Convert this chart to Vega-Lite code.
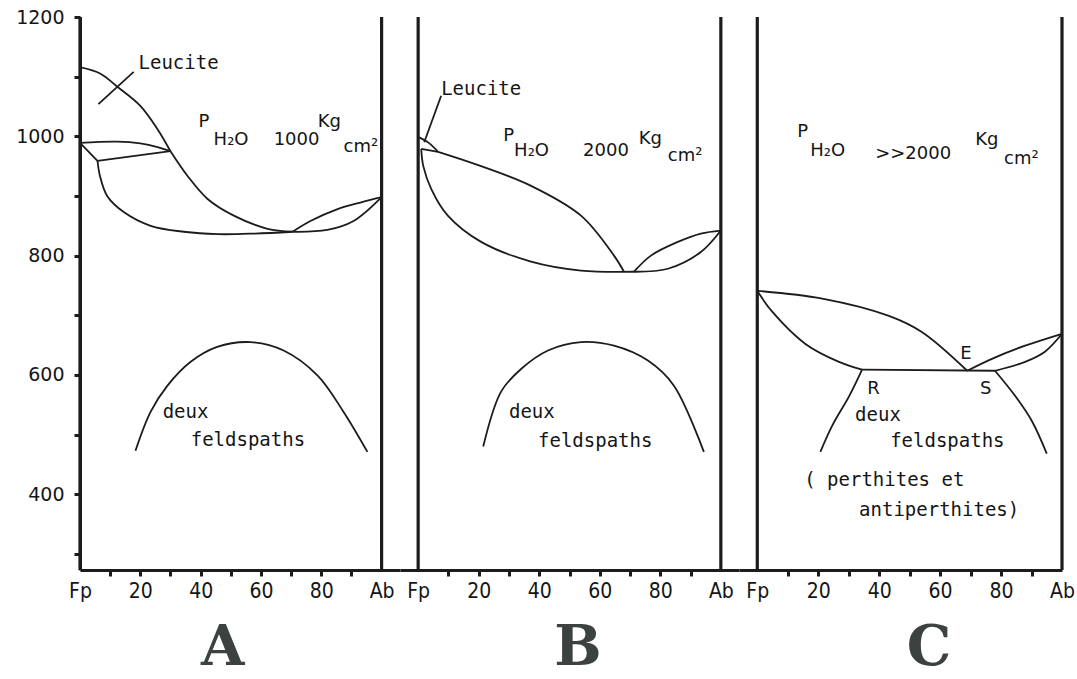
{
  "$schema": "https://vega.github.io/schema/vega-lite/v6.json",
  "background": "white",
  "padding": {"left": 15, "top": 8, "right": 0, "bottom": 0},
  "bounds": "flush",
  "spacing": 0,
  "config": {
    "view": {"stroke": null},
    "axis": {"grid": false, "title": null, "domainColor": "#1c1c1c", "domainWidth": 3, "tickColor": "#1c1c1c", "tickWidth": 3, "tickSize": 6, "labelColor": "#151515"},
    "line": {"color": "#1c1c1c", "strokeWidth": 1.8, "interpolate": "catmull-rom"},
    "rule": {"color": "#1c1c1c", "strokeWidth": 3.2},
    "text": {"color": "#151515"}
  },
  "datasets": {
    "bars": [{"x": 0}, {"x": 100}],
    "curvesA": [
      {"c": "liqL", "i": 0, "x": 0, "t": 1116}, {"c": "liqL", "i": 1, "x": 6.8, "t": 1105}, {"c": "liqL", "i": 2, "x": 12.4, "t": 1083}, {"c": "liqL", "i": 3, "x": 20, "t": 1051}, {"c": "liqL", "i": 4, "x": 25.7, "t": 1012}, {"c": "liqL", "i": 5, "x": 30, "t": 975},
      {"c": "liqF", "i": 0, "x": 30, "t": 975}, {"c": "liqF", "i": 1, "x": 35.6, "t": 934}, {"c": "liqF", "i": 2, "x": 42.3, "t": 895}, {"c": "liqF", "i": 3, "x": 51, "t": 867}, {"c": "liqF", "i": 4, "x": 62.2, "t": 845}, {"c": "liqF", "i": 5, "x": 70.5, "t": 840},
      {"c": "sol", "i": 0, "x": 5.8, "t": 959}, {"c": "sol", "i": 1, "x": 6.6, "t": 934}, {"c": "sol", "i": 2, "x": 9, "t": 900}, {"c": "sol", "i": 3, "x": 14.5, "t": 873}, {"c": "sol", "i": 4, "x": 23.4, "t": 850}, {"c": "sol", "i": 5, "x": 34.4, "t": 840}, {"c": "sol", "i": 6, "x": 45.6, "t": 836}, {"c": "sol", "i": 7, "x": 58, "t": 837}, {"c": "sol", "i": 8, "x": 70.5, "t": 840},
      {"c": "lt", "i": 0, "x": 0, "t": 989}, {"c": "lt", "i": 1, "x": 12.4, "t": 991}, {"c": "lt", "i": 2, "x": 20, "t": 988}, {"c": "lt", "i": 3, "x": 25.7, "t": 982}, {"c": "lt", "i": 4, "x": 30, "t": 975},
      {"c": "lb", "i": 0, "x": 5.8, "t": 959}, {"c": "lb", "i": 1, "x": 30, "t": 975},
      {"c": "ll", "i": 0, "x": 0, "t": 989}, {"c": "ll", "i": 1, "x": 5.8, "t": 959},
      {"c": "lensU", "i": 0, "x": 70.5, "t": 840}, {"c": "lensU", "i": 1, "x": 76.4, "t": 858}, {"c": "lensU", "i": 2, "x": 85.4, "t": 878}, {"c": "lensU", "i": 3, "x": 93, "t": 889}, {"c": "lensU", "i": 4, "x": 100, "t": 898},
      {"c": "lensL", "i": 0, "x": 70.5, "t": 840}, {"c": "lensL", "i": 1, "x": 82, "t": 843}, {"c": "lensL", "i": 2, "x": 90.7, "t": 858}, {"c": "lensL", "i": 3, "x": 100, "t": 898},
      {"c": "lead", "i": 0, "x": 6.1, "t": 1054}, {"c": "lead", "i": 1, "x": 17.8, "t": 1108},
      {"c": "solv", "i": 0, "x": 18.4, "t": 473}, {"c": "solv", "i": 1, "x": 23.4, "t": 538}, {"c": "solv", "i": 2, "x": 29, "t": 582}, {"c": "solv", "i": 3, "x": 36.7, "t": 622}, {"c": "solv", "i": 4, "x": 45.5, "t": 647}, {"c": "solv", "i": 5, "x": 56.5, "t": 655}, {"c": "solv", "i": 6, "x": 67.5, "t": 641}, {"c": "solv", "i": 7, "x": 78.8, "t": 599}, {"c": "solv", "i": 8, "x": 87.4, "t": 538}, {"c": "solv", "i": 9, "x": 95.3, "t": 471}
    ],
    "curvesB": [
      {"c": "lt", "i": 0, "x": 0, "t": 999}, {"c": "lt", "i": 1, "x": 3.5, "t": 989}, {"c": "lt", "i": 2, "x": 6.6, "t": 974},
      {"c": "lb", "i": 0, "x": 1, "t": 979}, {"c": "lb", "i": 1, "x": 6.6, "t": 974},
      {"c": "lead", "i": 0, "x": 2, "t": 990}, {"c": "lead", "i": 1, "x": 7.6, "t": 1068},
      {"c": "sol", "i": 0, "x": 1, "t": 979}, {"c": "sol", "i": 1, "x": 1.7, "t": 950}, {"c": "sol", "i": 2, "x": 4.3, "t": 912}, {"c": "sol", "i": 3, "x": 9.8, "t": 867}, {"c": "sol", "i": 4, "x": 20.8, "t": 823}, {"c": "sol", "i": 5, "x": 37.3, "t": 790}, {"c": "sol", "i": 6, "x": 53.8, "t": 775}, {"c": "sol", "i": 7, "x": 71.3, "t": 773},
      {"c": "liq", "i": 0, "x": 6.6, "t": 974}, {"c": "liq", "i": 1, "x": 20.8, "t": 950}, {"c": "liq", "i": 2, "x": 37.3, "t": 917}, {"c": "liq", "i": 3, "x": 53.8, "t": 867}, {"c": "liq", "i": 4, "x": 64.7, "t": 800}, {"c": "liq", "i": 5, "x": 68, "t": 773},
      {"c": "lensU", "i": 0, "x": 71.3, "t": 773}, {"c": "lensU", "i": 1, "x": 76.9, "t": 800}, {"c": "lensU", "i": 2, "x": 85.8, "t": 823}, {"c": "lensU", "i": 3, "x": 93.4, "t": 837}, {"c": "lensU", "i": 4, "x": 100, "t": 842},
      {"c": "lensL", "i": 0, "x": 71.3, "t": 773}, {"c": "lensL", "i": 1, "x": 82.5, "t": 778}, {"c": "lensL", "i": 2, "x": 93.4, "t": 806}, {"c": "lensL", "i": 3, "x": 100, "t": 842},
      {"c": "solv", "i": 0, "x": 21.5, "t": 480}, {"c": "solv", "i": 1, "x": 27.4, "t": 572}, {"c": "solv", "i": 2, "x": 34, "t": 610}, {"c": "solv", "i": 3, "x": 42.9, "t": 641}, {"c": "solv", "i": 4, "x": 53.8, "t": 655}, {"c": "solv", "i": 5, "x": 64.7, "t": 649}, {"c": "solv", "i": 6, "x": 75.9, "t": 624}, {"c": "solv", "i": 7, "x": 84.5, "t": 582}, {"c": "solv", "i": 8, "x": 94.4, "t": 471}
    ],
    "curvesC": [
      {"c": "liq", "i": 0, "x": 0, "t": 741}, {"c": "liq", "i": 1, "x": 21.3, "t": 728}, {"c": "liq", "i": 2, "x": 43.2, "t": 699}, {"c": "liq", "i": 3, "x": 54, "t": 672}, {"c": "liq", "i": 4, "x": 68.9, "t": 607},
      {"c": "sol", "i": 0, "x": 0, "t": 741}, {"c": "sol", "i": 1, "x": 4.9, "t": 706}, {"c": "sol", "i": 2, "x": 15.8, "t": 652}, {"c": "sol", "i": 3, "x": 26.8, "t": 622}, {"c": "sol", "i": 4, "x": 34.4, "t": 609},
      {"c": "eut", "i": 0, "x": 34.4, "t": 609}, {"c": "eut", "i": 1, "x": 78, "t": 607},
      {"c": "lensU", "i": 0, "x": 68.9, "t": 607}, {"c": "lensU", "i": 1, "x": 77, "t": 627}, {"c": "lensU", "i": 2, "x": 87.9, "t": 649}, {"c": "lensU", "i": 3, "x": 100, "t": 669},
      {"c": "lensL", "i": 0, "x": 78, "t": 607}, {"c": "lensL", "i": 1, "x": 87.9, "t": 622}, {"c": "lensL", "i": 2, "x": 94.4, "t": 639}, {"c": "lensL", "i": 3, "x": 100, "t": 669},
      {"c": "solvL", "i": 0, "x": 20.7, "t": 471}, {"c": "solvL", "i": 1, "x": 24.6, "t": 515}, {"c": "solvL", "i": 2, "x": 30.2, "t": 565}, {"c": "solvL", "i": 3, "x": 34.4, "t": 609},
      {"c": "solvR", "i": 0, "x": 78, "t": 607}, {"c": "solvR", "i": 1, "x": 84.6, "t": 565}, {"c": "solvR", "i": 2, "x": 90.2, "t": 522}, {"c": "solvR", "i": 3, "x": 95, "t": 468}
    ],
    "textA": [
      {"k": "lab", "s": "Leucite", "x": 19.4, "t": 1113},
      {"k": "lab", "s": "deux", "x": 27.4, "t": 527},
      {"k": "lab", "s": "feldspaths", "x": 36.7, "t": 481},
      {"k": "ann", "s": "P", "x": 39.3, "t": 1016},
      {"k": "ann", "s": "H₂O", "x": 44.3, "t": 986},
      {"k": "ann", "s": "1000", "x": 64.2, "t": 986},
      {"k": "ann", "s": "Kg", "x": 78.8, "t": 1016},
      {"k": "ann", "s": "cm²", "x": 87.4, "t": 974},
      {"k": "big", "s": "A", "x": 47.3, "t": 113}
    ],
    "textB": [
      {"k": "lab", "s": "Leucite", "x": 7.6, "t": 1069},
      {"k": "lab", "s": "deux", "x": 30, "t": 527},
      {"k": "lab", "s": "feldspaths", "x": 39.6, "t": 480},
      {"k": "ann", "s": "P", "x": 28.1, "t": 992},
      {"k": "ann", "s": "H₂O", "x": 31.7, "t": 967},
      {"k": "ann", "s": "2000", "x": 54.5, "t": 967},
      {"k": "ann", "s": "Kg", "x": 72.9, "t": 987},
      {"k": "ann", "s": "cm²", "x": 82.5, "t": 959},
      {"k": "big", "s": "B", "x": 52.8, "t": 113}
    ],
    "textC": [
      {"k": "ann", "s": "P", "x": 13.1, "t": 999},
      {"k": "ann", "s": "H₂O", "x": 17.4, "t": 967},
      {"k": "ann", "s": ">>2000", "x": 38.7, "t": 962},
      {"k": "ann", "s": "Kg", "x": 71.5, "t": 986},
      {"k": "ann", "s": "cm²", "x": 81, "t": 954},
      {"k": "ann", "s": "E", "x": 66.6, "t": 627},
      {"k": "ann", "s": "R", "x": 36.1, "t": 568},
      {"k": "ann", "s": "S", "x": 73.1, "t": 568},
      {"k": "lab", "s": "deux", "x": 32.1, "t": 522},
      {"k": "lab", "s": "feldspaths", "x": 43.6, "t": 480},
      {"k": "lab", "s": "( perthites  et", "x": 15.4, "t": 413},
      {"k": "lab", "s": "antiperthites)", "x": 33.4, "t": 364},
      {"k": "big", "s": "C", "x": 56.4, "t": 113}
    ]
  },
  "hconcat": [
    {
      "width": 320, "height": 553,
      "encoding": {
        "x": {"field": "x", "type": "quantitative", "scale": {"domain": [0, 106.1], "nice": false, "zero": false},
          "axis": {"values": [0, 10, 20, 30, 40, 50, 60, 70, 80, 90, 100], "labelExpr": "datum.value == 0 ? 'Fp' : datum.value == 100 ? 'Ab' : (datum.value % 20 == 0 ? datum.label : '')", "labelOverlap": false, "labelFlush": false, "labelFont": "'Liberation Sans Narrow', 'DejaVu Sans Condensed', 'DejaVu Sans'", "labelFontSize": 21, "labelPadding": 4, "tickOpacity": {"condition": {"test": "datum.value == 0 || datum.value == 100", "value": 0}, "value": 1}}}
      },
      "layer": [
        {"data": {"name": "curvesA"}, "mark": "line",
          "encoding": {
            "y": {"field": "t", "type": "quantitative", "scale": {"domain": [273, 1200], "nice": false, "zero": false},
              "axis": {"values": [300, 400, 500, 600, 700, 800, 900, 1000, 1100, 1200], "format": "d", "labelExpr": "datum.value % 200 == 0 ? datum.label : ''", "labelFont": "DejaVu Sans", "labelFontSize": 19, "labelPadding": 10, "labelOverlap": false, "labelFlush": false}},
            "detail": {"field": "c"}, "order": {"field": "i", "type": "quantitative"}}},
        {"data": {"name": "bars"}, "mark": "rule", "encoding": {"x": {"field": "x", "type": "quantitative"}}},
        {"data": {"name": "textA"}, "transform": [{"filter": "datum.k == 'lab'"}], "mark": {"type": "text", "align": "left", "baseline": "alphabetic", "font": "DejaVu Sans Mono", "fontSize": 19}, "encoding": {"y": {"field": "t", "type": "quantitative"}, "text": {"field": "s"}}},
        {"data": {"name": "textA"}, "transform": [{"filter": "datum.k == 'ann'"}], "mark": {"type": "text", "align": "left", "baseline": "alphabetic", "font": "DejaVu Sans", "fontSize": 18}, "encoding": {"y": {"field": "t", "type": "quantitative"}, "text": {"field": "s"}}},
        {"data": {"name": "textA"}, "transform": [{"filter": "datum.k == 'big'"}], "mark": {"type": "text", "align": "center", "baseline": "alphabetic", "font": "DejaVu Serif", "fontWeight": "bold", "fontSize": 56, "color": "#3c423f"}, "encoding": {"y": {"field": "t", "type": "quantitative"}, "text": {"field": "s"}}}
      ]
    },
    {
      "width": 339, "height": 553,
      "encoding": {
        "x": {"field": "x", "type": "quantitative", "scale": {"domain": [-6, 106], "nice": false, "zero": false},
          "axis": {"values": [0, 10, 20, 30, 40, 50, 60, 70, 80, 90, 100], "labelExpr": "datum.value == 0 ? 'Fp' : datum.value == 100 ? 'Ab' : (datum.value % 20 == 0 ? datum.label : '')", "labelOverlap": false, "labelFlush": false, "labelFont": "'Liberation Sans Narrow', 'DejaVu Sans Condensed', 'DejaVu Sans'", "labelFontSize": 21, "labelPadding": 4, "tickOpacity": {"condition": {"test": "datum.value == 0 || datum.value == 100", "value": 0}, "value": 1}}}
      },
      "layer": [
        {"data": {"name": "curvesB"}, "mark": "line",
          "encoding": {
            "y": {"field": "t", "type": "quantitative", "scale": {"domain": [273, 1200], "nice": false, "zero": false}, "axis": null},
            "detail": {"field": "c"}, "order": {"field": "i", "type": "quantitative"}}},
        {"data": {"name": "bars"}, "mark": "rule", "encoding": {"x": {"field": "x", "type": "quantitative"}}},
        {"data": {"name": "textB"}, "transform": [{"filter": "datum.k == 'lab'"}], "mark": {"type": "text", "align": "left", "baseline": "alphabetic", "font": "DejaVu Sans Mono", "fontSize": 19}, "encoding": {"y": {"field": "t", "type": "quantitative"}, "text": {"field": "s"}}},
        {"data": {"name": "textB"}, "transform": [{"filter": "datum.k == 'ann'"}], "mark": {"type": "text", "align": "left", "baseline": "alphabetic", "font": "DejaVu Sans", "fontSize": 18}, "encoding": {"y": {"field": "t", "type": "quantitative"}, "text": {"field": "s"}}},
        {"data": {"name": "textB"}, "transform": [{"filter": "datum.k == 'big'"}], "mark": {"type": "text", "align": "center", "baseline": "alphabetic", "font": "DejaVu Serif", "fontWeight": "bold", "fontSize": 56, "color": "#3c423f"}, "encoding": {"y": {"field": "t", "type": "quantitative"}, "text": {"field": "s"}}}
      ]
    },
    {
      "width": 323, "height": 553,
      "encoding": {
        "x": {"field": "x", "type": "quantitative", "scale": {"domain": [-6, 100], "nice": false, "zero": false},
          "axis": {"values": [0, 10, 20, 30, 40, 50, 60, 70, 80, 90, 100], "labelExpr": "datum.value == 0 ? 'Fp' : datum.value == 100 ? 'Ab' : (datum.value % 20 == 0 ? datum.label : '')", "labelOverlap": false, "labelFlush": false, "labelFont": "'Liberation Sans Narrow', 'DejaVu Sans Condensed', 'DejaVu Sans'", "labelFontSize": 21, "labelPadding": 4, "tickOpacity": {"condition": {"test": "datum.value == 0 || datum.value == 100", "value": 0}, "value": 1}}}
      },
      "layer": [
        {"data": {"name": "curvesC"}, "mark": "line",
          "encoding": {
            "y": {"field": "t", "type": "quantitative", "scale": {"domain": [273, 1200], "nice": false, "zero": false}, "axis": null},
            "detail": {"field": "c"}, "order": {"field": "i", "type": "quantitative"}}},
        {"data": {"name": "bars"}, "mark": "rule", "encoding": {"x": {"field": "x", "type": "quantitative"}}},
        {"data": {"name": "textC"}, "transform": [{"filter": "datum.k == 'lab'"}], "mark": {"type": "text", "align": "left", "baseline": "alphabetic", "font": "DejaVu Sans Mono", "fontSize": 19}, "encoding": {"y": {"field": "t", "type": "quantitative"}, "text": {"field": "s"}}},
        {"data": {"name": "textC"}, "transform": [{"filter": "datum.k == 'ann'"}], "mark": {"type": "text", "align": "left", "baseline": "alphabetic", "font": "DejaVu Sans", "fontSize": 18}, "encoding": {"y": {"field": "t", "type": "quantitative"}, "text": {"field": "s"}}},
        {"data": {"name": "textC"}, "transform": [{"filter": "datum.k == 'big'"}], "mark": {"type": "text", "align": "center", "baseline": "alphabetic", "font": "DejaVu Serif", "fontWeight": "bold", "fontSize": 56, "color": "#3c423f"}, "encoding": {"y": {"field": "t", "type": "quantitative"}, "text": {"field": "s"}}}
      ]
    }
  ]
}
